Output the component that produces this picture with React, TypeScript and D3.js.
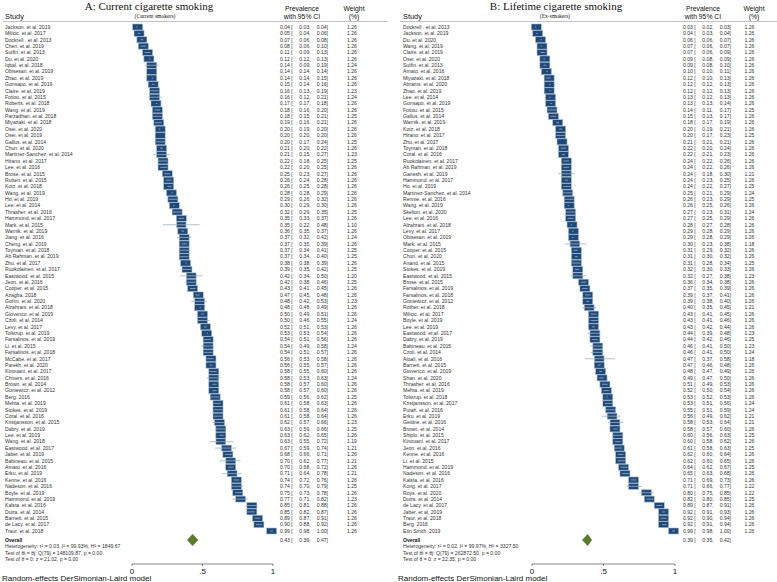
import React from "react"
import * as d3 from "d3"

// ---- Panel A: current smokers ----
const studiesA = [
  "Jackson. et al. 2019", "Milicic. et al. 2017", "Dockrell . et al. 2013", "Chen. et al. 2019", "Sutfin. et al. 2013",
  "Du. et al. 2020", "Iqbal. et al. 2018", "Obisesan. et al. 2019", "Zhao. et al. 2019", "Gonsapo. et al. 2019",
  "Claire. et al. 2019", "Fotiou. et al. 2015", "Roberts. et al. 2018", "Wang. et al. 2019", "Parzadhan. et al. 2018",
  "Miyazaki. et al. 2018", "Osei. et al. 2020", "Osei. et al. 2019", "Gallus. et al. 2014", "Chun. et al. 2020",
  "Martinez-Sanchez. et al. 2014", "Hirano. et al. 2017", "Lee. et al. 2016", "Brose. et al. 2015", "Rutten. et al. 2015",
  "Kotz. et al. 2018", "Wang. et al. 2019", "Ho. et al. 2019", "Lee. et al. 2014", "Thrasher. et al. 2016",
  "Hammond. et al. 2017", "Mark. et al. 2015", "Warnik. et al. 2019", "Jiang. et al. 2016", "Cheng. et al. 2019",
  "Toyman. et al. 2018", "Ab Rahman. et al. 2019", "Zhu. et al. 2017", "Ruokolainen. et al. 2017", "Eastwood. et al. 2015",
  "Jeon. et al. 2016", "Cooper. et al. 2015", "Azagba. 2018", "Gorini. et al. 2020", "Alzahrani. et al. 2018",
  "Giovenco. et al. 2019", "Czoli. et al. 2014", "Levy. et al. 2017", "Tolstrup. et al. 2019", "Farsalinos. et al. 2019",
  "Li. et al. 2015", "Farsalinos. et al. 2018", "McCabe. et al. 2017", "Parekh. et al. 2020", "Kinouani. et al. 2017",
  "Chivers. et al. 2016", "Brown. et al. 2014", "Goniewicz. et al. 2012", "Berg. 2016", "Mehta. et al. 2019",
  "Stokes. et al. 2019", "Coral. et al. 2016", "Kristjansson. et al. 2015", "Dabry. et al. 2019", "Lee. et al. 2019",
  "Wang. et al. 2018", "Eastwood. et al. 2017", "Jaber. et al. 2019", "Babineau. et al. 2015", "Amato. et al. 2016",
  "Erku. et al. 2019", "Kenne. et al. 2016", "Nadeson. et al. 2016", "Boyle. et al. 2019", "Hammond. et al. 2019",
  "Kalsta. et al. 2016", "Dutra. et al. 2014", "Barnett. et al. 2015", "de Lacy. et al. 2017", "Traur. et al. 2018",
]
const estA = [
  0.04, 0.05, 0.07, 0.08, 0.11, 0.12, 0.14, 0.14, 0.14, 0.15,
  0.16, 0.16, 0.17, 0.18, 0.18, 0.19, 0.2, 0.2, 0.2, 0.21,
  0.21, 0.22, 0.22, 0.25, 0.26, 0.26, 0.28, 0.29, 0.3, 0.32,
  0.35, 0.35, 0.36, 0.37, 0.37, 0.37, 0.37, 0.38, 0.39, 0.42,
  0.42, 0.43, 0.47, 0.48, 0.48, 0.5, 0.5, 0.52, 0.53, 0.54,
  0.54, 0.54, 0.56, 0.56, 0.58, 0.58, 0.58, 0.58, 0.59, 0.61,
  0.61, 0.61, 0.62, 0.63, 0.63, 0.63, 0.67, 0.68, 0.7, 0.7,
  0.71, 0.74, 0.74, 0.75, 0.77, 0.85, 0.85, 0.89, 0.9, 0.99,
]
const lowA = [
  0.03, 0.04, 0.06, 0.06, 0.09, 0.12, 0.09, 0.14, 0.14, 0.14,
  0.13, 0.12, 0.17, 0.16, 0.15, 0.16, 0.19, 0.2, 0.17, 0.2,
  0.15, 0.18, 0.2, 0.23, 0.24, 0.25, 0.28, 0.26, 0.29, 0.29,
  0.33, 0.22, 0.35, 0.32, 0.35, 0.34, 0.34, 0.38, 0.35, 0.34,
  0.38, 0.41, 0.45, 0.42, 0.48, 0.49, 0.46, 0.51, 0.53, 0.51,
  0.49, 0.51, 0.53, 0.55, 0.55, 0.53, 0.57, 0.57, 0.56, 0.58,
  0.58, 0.58, 0.57, 0.59, 0.62, 0.55, 0.59, 0.66, 0.62, 0.68,
  0.64, 0.72, 0.7, 0.73, 0.71, 0.81, 0.82, 0.87, 0.88, 0.98,
]
const highA = [
  0.04, 0.06, 0.08, 0.1, 0.13, 0.13, 0.19, 0.14, 0.15, 0.16,
  0.19, 0.21, 0.18, 0.2, 0.21, 0.21, 0.2, 0.2, 0.24, 0.22,
  0.27, 0.25, 0.25, 0.27, 0.28, 0.28, 0.29, 0.32, 0.3, 0.35,
  0.37, 0.48, 0.37, 0.42, 0.39, 0.41, 0.4, 0.39, 0.42, 0.5,
  0.46, 0.45, 0.48, 0.53, 0.49, 0.51, 0.55, 0.53, 0.54, 0.56,
  0.58, 0.57, 0.58, 0.57, 0.6, 0.63, 0.6, 0.6, 0.62, 0.63,
  0.64, 0.64, 0.66, 0.66, 0.65, 0.72, 0.74, 0.71, 0.77, 0.72,
  0.78, 0.76, 0.79, 0.78, 0.82, 0.88, 0.87, 0.91, 0.92, 1.0,
]
const weightA = [
  1.26, 1.26, 1.26, 1.26, 1.26, 1.26, 1.24, 1.26, 1.26, 1.26,
  1.23, 1.24, 1.26, 1.26, 1.25, 1.26, 1.26, 1.26, 1.25, 1.26,
  1.23, 1.25, 1.26, 1.26, 1.26, 1.26, 1.26, 1.26, 1.26, 1.25,
  1.26, 1.1, 1.26, 1.24, 1.26, 1.25, 1.25, 1.26, 1.25, 1.2,
  1.25, 1.26, 1.26, 1.23, 1.26, 1.26, 1.24, 1.26, 1.26, 1.26,
  1.24, 1.26, 1.26, 1.26, 1.26, 1.24, 1.26, 1.26, 1.25, 1.26,
  1.26, 1.26, 1.23, 1.25, 1.26, 1.19, 1.21, 1.26, 1.21, 1.26,
  1.21, 1.26, 1.25, 1.26, 1.23, 1.26, 1.26, 1.26, 1.26, 1.26,
]
const overallA = [0.43, 0.39, 0.47]
const statsA = [
  "Heterogeneity: τ² = 0.03, I² = 99.93%, H² = 1849.67",
  "Test of θi = θj: Q(79) = 148109.87, p = 0.00",
  "Test of θ = 0: z = 21.02, p = 0.00",
]

// ---- Panel B: ex-smokers ----
const studiesB = [
  "Dockrell . et al. 2013", "Jackson. et al. 2019", "Du. et al. 2020", "Wang. et al. 2019", "Claire. et al. 2019",
  "Osei. et al. 2020", "Sutfin. et al. 2013", "Amato. et al. 2016", "Miyazaki. et al. 2018", "Abrams. et al. 2020",
  "Zhao. et al. 2019", "Lee. et al. 2014", "Gonsapo. et al. 2019", "Fotiou. et al. 2015", "Gallus. et al. 2014",
  "Warnik. et al. 2019", "Kotz. et al. 2018", "Hirano. et al. 2017", "Zhu. et al. 2017", "Toyman. et al. 2018",
  "Coral. et al. 2016", "Ruokolainen. et al. 2017", "Ab Rahman. et al. 2019", "Ganesh. et al. 2019", "Hammond. et al. 2017",
  "Ho. et al. 2019", "Martinez-Sanchez. et al. 2014", "Rennie. et al. 2016", "Wang. et al. 2019", "Skelton. et al. 2020",
  "Lee. et al. 2016", "Alzahrani. et al. 2018", "Levy. et al. 2017", "Obisesan. et al. 2019", "Mark. et al. 2015",
  "Cooper. et al. 2015", "Chun. et al. 2020", "Anand. et al. 2015", "Stokes. et al. 2019", "Eastwood. et al. 2015",
  "Brose. et al. 2015", "Farsalinos. et al. 2019", "Farsalinos. et al. 2018", "Goniewicz. et al. 2012", "Rother. et al. 2018",
  "Milicic. et al. 2017", "Boyle. et al. 2019", "Lee. et al. 2019", "Eastwood. et al. 2017", "Dabry. et al. 2019",
  "Babineau. et al. 2015", "Czoli. et al. 2014", "Aloali. et al. 2016", "Barnett. et al. 2015", "Giovenco. et al. 2019",
  "Shan. et al. 2020", "Thrasher. et al. 2016", "Mehta. et al. 2019", "Tolstrup. et al. 2018", "Kristjansson. et al. 2017",
  "Putah. et al. 2016", "Erku. et al. 2019", "Geidne. et al. 2016", "Brown. et al. 2014", "Shiplo. et al. 2015",
  "Kinouani. et al. 2017", "Jeon. et al. 2016", "Kenne. et al. 2016", "Li. et al. 2015", "Hammond. et al. 2019",
  "Nadeson. et al. 2016", "Kalsta. et al. 2016", "Kong. et al. 2017", "Roys. et al. 2020", "Dutra. et al. 2014",
  "de Lacy. et al. 2017", "Jaber. et al. 2019", "Traur. et al. 2018", "Berg. 2016", "Etin Smith. 2019",
]
const estB = [
  0.03, 0.04, 0.06, 0.07, 0.07, 0.09, 0.09, 0.1, 0.12, 0.12,
  0.12, 0.13, 0.13, 0.14, 0.15, 0.18, 0.2, 0.2, 0.21, 0.22,
  0.22, 0.24, 0.24, 0.24, 0.24, 0.24, 0.25, 0.26, 0.26, 0.27,
  0.27, 0.28, 0.29, 0.29, 0.3, 0.31, 0.31, 0.31, 0.32, 0.32,
  0.36, 0.37, 0.39, 0.39, 0.4, 0.43, 0.43, 0.43, 0.44, 0.44,
  0.46, 0.46, 0.47, 0.47, 0.48, 0.49, 0.51, 0.52, 0.53, 0.53,
  0.55, 0.56, 0.58, 0.58, 0.6, 0.6, 0.61, 0.62, 0.62, 0.64,
  0.65, 0.71, 0.71, 0.8, 0.82, 0.89, 0.92, 0.92, 0.92, 0.99,
]
const lowB = [
  0.02, 0.03, 0.06, 0.06, 0.06, 0.08, 0.08, 0.1, 0.1, 0.12,
  0.12, 0.12, 0.13, 0.11, 0.13, 0.17, 0.19, 0.17, 0.21, 0.2,
  0.21, 0.22, 0.22, 0.18, 0.23, 0.22, 0.21, 0.23, 0.25, 0.23,
  0.25, 0.27, 0.28, 0.28, 0.23, 0.29, 0.3, 0.28, 0.3, 0.27,
  0.34, 0.35, 0.37, 0.38, 0.35, 0.41, 0.41, 0.42, 0.39, 0.42,
  0.41, 0.41, 0.37, 0.46, 0.47, 0.47, 0.49, 0.5, 0.52, 0.51,
  0.51, 0.49, 0.53, 0.57, 0.56, 0.58, 0.58, 0.6, 0.6, 0.62,
  0.63, 0.69, 0.66, 0.75, 0.8, 0.87, 0.91, 0.9, 0.91, 0.98,
]
const highB = [
  0.03, 0.04, 0.07, 0.07, 0.09, 0.09, 0.1, 0.11, 0.13, 0.13,
  0.13, 0.13, 0.14, 0.17, 0.17, 0.19, 0.21, 0.23, 0.21, 0.24,
  0.23, 0.26, 0.26, 0.3, 0.25, 0.27, 0.29, 0.29, 0.26, 0.31,
  0.29, 0.28, 0.29, 0.29, 0.38, 0.32, 0.32, 0.34, 0.33, 0.38,
  0.38, 0.39, 0.41, 0.4, 0.45, 0.45, 0.46, 0.44, 0.48, 0.46,
  0.5, 0.5, 0.58, 0.48, 0.49, 0.5, 0.53, 0.54, 0.53, 0.56,
  0.59, 0.62, 0.64, 0.6, 0.63, 0.62, 0.63, 0.64, 0.65, 0.67,
  0.68, 0.73, 0.77, 0.85, 0.85, 0.91, 0.93, 0.94, 0.94, 1.0,
]
const weightB = [
  1.26, 1.26, 1.26, 1.26, 1.26, 1.26, 1.26, 1.26, 1.26, 1.26,
  1.26, 1.26, 1.26, 1.25, 1.26, 1.26, 1.26, 1.25, 1.26, 1.26,
  1.26, 1.26, 1.26, 1.21, 1.26, 1.25, 1.24, 1.25, 1.26, 1.24,
  1.26, 1.26, 1.26, 1.26, 1.18, 1.26, 1.26, 1.25, 1.26, 1.23,
  1.26, 1.26, 1.26, 1.26, 1.21, 1.26, 1.26, 1.26, 1.23, 1.25,
  1.23, 1.24, 1.18, 1.26, 1.26, 1.26, 1.26, 1.26, 1.26, 1.24,
  1.24, 1.21, 1.21, 1.26, 1.25, 1.26, 1.25, 1.26, 1.26, 1.25,
  1.26, 1.26, 1.22, 1.22, 1.25, 1.26, 1.26, 1.26, 1.26, 1.26,
]
const overallB = [0.39, 0.35, 0.42]
const statsB = [
  "Heterogeneity: τ² = 0.02, I² = 99.97%, H² = 3327.50",
  "Test of θi = θj: Q(79) = 262872.50, p = 0.00",
  "Test of θ = 0: z = 22.35, p = 0.00",
]

const axisTicks = [0, 0.5, 1]

const SANS = "'Liberation Sans', Arial, sans-serif"
const SERIF = "'Liberation Serif', 'Times New Roman', serif"
const BOX = "#1d4a7a"
const BOX_EDGE = "#a7b9cc"
const CI = "#9fb0c2"
const DIAMOND = "#5a7a2c"
const TXT = "#333"

const f2 = d3.format(".2f")
const tickFmt = (t) => (t === 0.5 ? ".5" : d3.format("d")(t))

const rowY = d3.scaleLinear().domain([0, 79]).range([27, 531])

function ForestPanel({ layout, title, subtitle, names, est, low, high, weight, overall, stats }) {
  const L = layout
  const x = d3.scaleLinear().domain([0, 1]).range(L.plot)
  const size = d3.scaleSqrt().domain([0, 1.26]).range([0, 1])
  const fs = 5.1

  const values = (y, e, lo, hi) => (
    <g fontSize={fs} fill={TXT}>
      <text x={L.val} y={y} dy="0.35em">{f2(e)} [</text>
      <text x={L.val + 19.3} y={y} dy="0.35em">{f2(lo)},</text>
      <text x={L.val + 36.7} y={y} dy="0.35em">{f2(hi)}]</text>
    </g>
  )

  const yOverall = 540
  const axisY = 564

  return (
    <g fontFamily={SANS}>
      <text x={L.title} y={10} textAnchor="middle" fontFamily={SERIF} fontSize={11} fill="#111">{title}</text>
      <text x={L.subtitle} y={17.5} textAnchor="middle" fontFamily={SERIF} fontSize={5.6} fill="#111">{subtitle}</text>

      <text x={L.label} y={19} fontSize={7.4} fill="#111">Study</text>
      <text x={L.prev} y={10.5} textAnchor="middle" fontSize={6.8} fill="#111">Prevalence</text>
      <text x={L.prev} y={18.8} textAnchor="middle" fontSize={6.8} fill="#111">with 95% CI</text>
      <text x={L.wHead} y={10.5} textAnchor="middle" fontSize={6.8} fill="#111">Weight</text>
      <text x={L.wHead} y={18.8} textAnchor="middle" fontSize={6.8} fill="#111">(%)</text>
      <line x1={L.line[0]} x2={L.line[1]} y1={21.5} y2={21.5} stroke="#9a9a9a" strokeWidth={0.6} />

      {names.map((n, i) => {
        const y = rowY(i)
        const s = size(weight[i])
        const w = 10 * s
        const h = 6 * s
        return (
          <g key={i}>
            <text x={L.label} y={y} dy="0.35em" fontSize={fs} fill={TXT}>{n}</text>
            <rect x={x(est[i]) - w / 2} y={y - h / 2} width={w} height={h} fill={BOX} stroke={BOX_EDGE} strokeWidth={0.6} />
            <line x1={x(low[i])} x2={x(high[i])} y1={y} y2={y} stroke={CI} strokeWidth={0.8} />
            {values(y, est[i], low[i], high[i])}
            <text x={L.wt} y={y} dy="0.35em" textAnchor="middle" fontSize={fs} fill={TXT}>{f2(weight[i])}</text>
          </g>
        )
      })}

      <text x={L.label} y={yOverall} dy="0.35em" fontSize={fs} fontWeight="bold" fill="#111">Overall</text>
      <path
        d={`M${x(overall[1])},${yOverall} L${x(overall[0])},${yOverall - 6} L${x(overall[2])},${yOverall} L${x(overall[0])},${yOverall + 6} Z`}
        fill={DIAMOND}
      />
      {values(yOverall, overall[0], overall[1], overall[2])}

      {stats.map((s, i) => (
        <text key={i} x={L.label} y={546.7 + i * 6.4} dy="0.35em" fontSize={fs} fill={TXT}>{s}</text>
      ))}

      <line x1={x(0)} x2={x(1)} y1={axisY} y2={axisY} stroke="#333" strokeWidth={0.6} />
      {axisTicks.map((t) => (
        <g key={t}>
          <line x1={x(t)} x2={x(t)} y1={axisY} y2={axisY + 2} stroke="#333" strokeWidth={0.6} />
          <text x={x(t)} y={573.5} textAnchor="middle" fontSize={8} fill="#111">{tickFmt(t)}</text>
        </g>
      ))}
      <text x={L.model} y={581} fontSize={8} fill="#111">Random-effects DerSimonian-Laird model</text>
    </g>
  )
}

const layoutA = { label: 5, plot: [132, 273], val: 280, wt: 352, prev: 302, wHead: 354, title: 149, subtitle: 155, line: [3, 388], model: 2 }
const layoutB = { label: 403, plot: [532, 675], val: 683, wt: 749.5, prev: 703, wHead: 754, title: 556, subtitle: 555, line: [400, 777], model: 398 }

export default function App() {
  return (
    <svg width={777} height={582} style={{ position: "absolute", left: 0, top: 0, display: "block", background: "#fff" }}>
      <ForestPanel
        layout={layoutA}
        title="A: Current cigarette smoking"
        subtitle="(Current smokers)"
        names={studiesA}
        est={estA}
        low={lowA}
        high={highA}
        weight={weightA}
        overall={overallA}
        stats={statsA}
      />
      <ForestPanel
        layout={layoutB}
        title="B: Lifetime cigarette smoking"
        subtitle="(Ex-smokers)"
        names={studiesB}
        est={estB}
        low={lowB}
        high={highB}
        weight={weightB}
        overall={overallB}
        stats={statsB}
      />
    </svg>
  )
}
